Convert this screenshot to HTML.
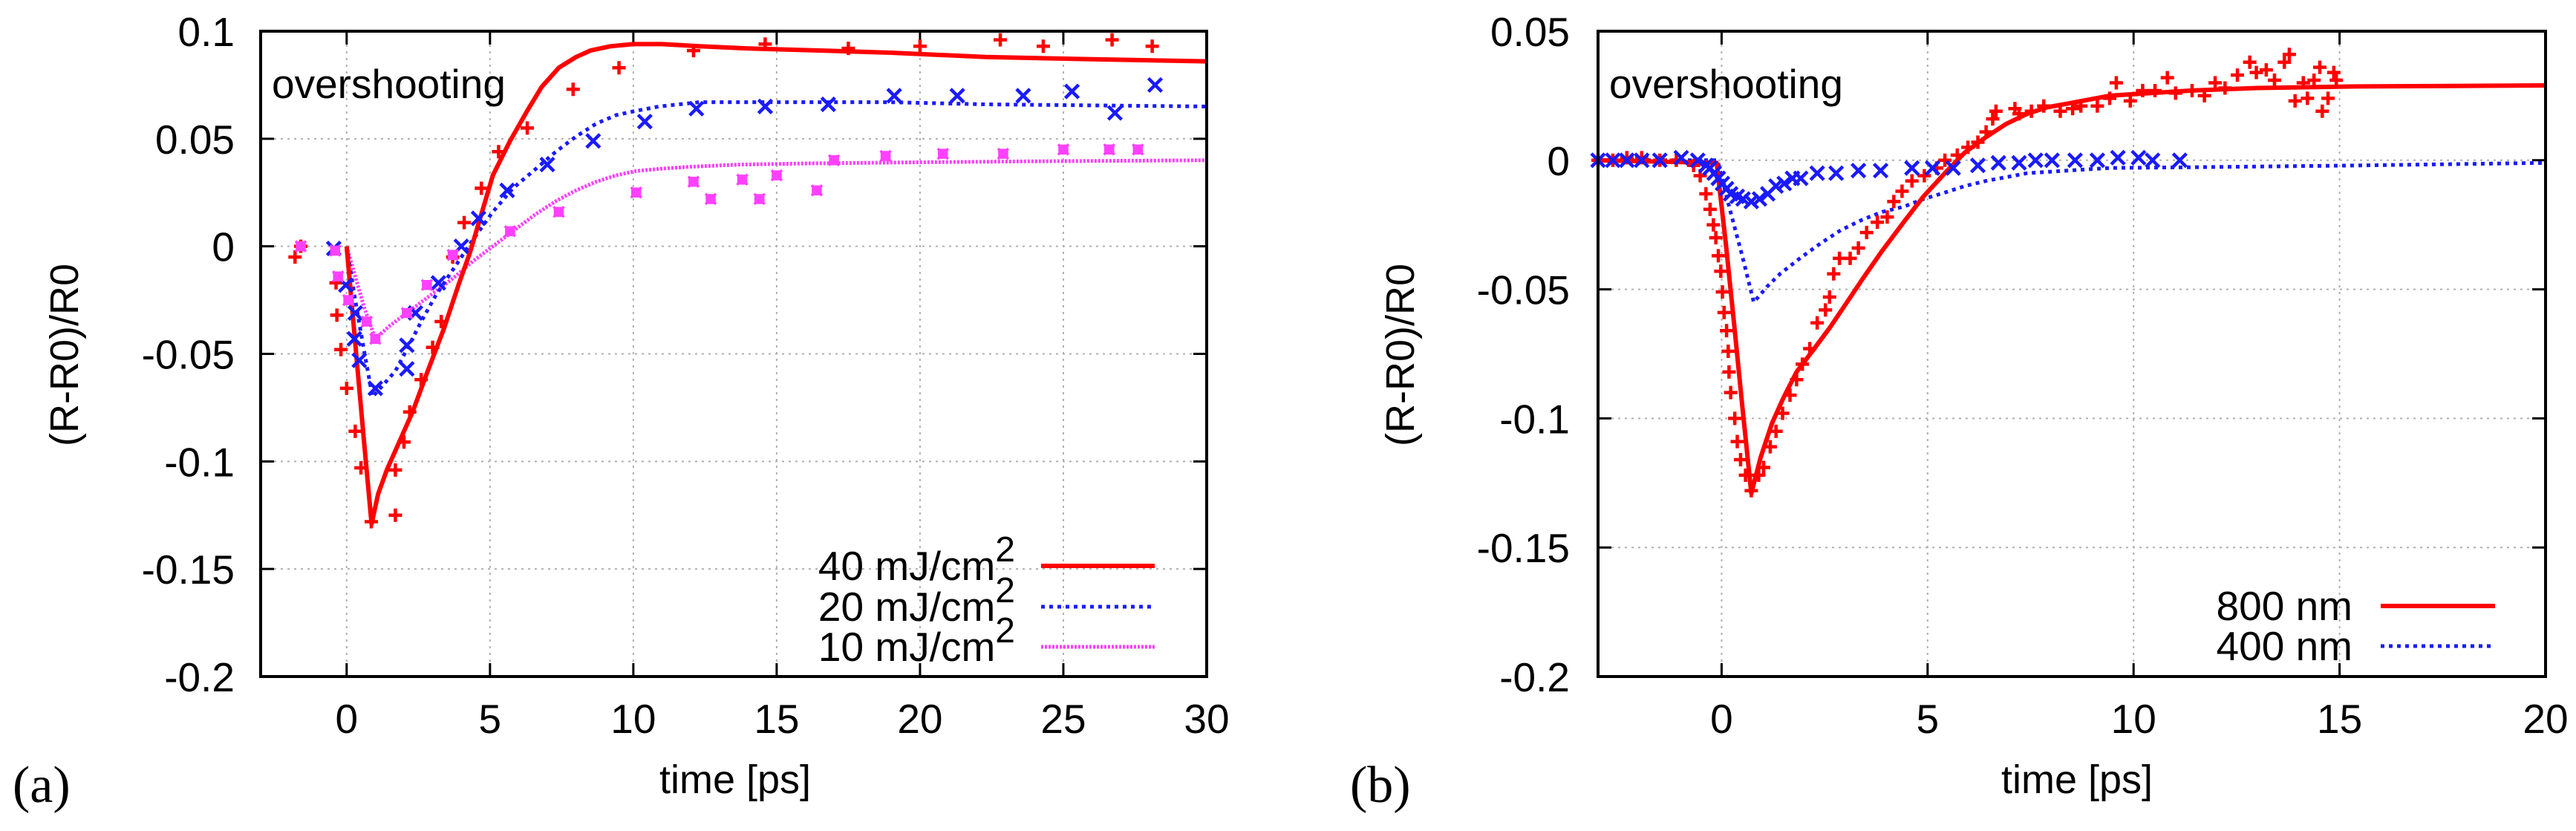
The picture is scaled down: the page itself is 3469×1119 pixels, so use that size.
<!DOCTYPE html>
<html><head><meta charset="utf-8"><style>
html,body{margin:0;padding:0;background:#fff;}
svg{display:block;}
text{font-family:"Liberation Sans",sans-serif;fill:#000;}
</style></head><body>
<svg id="fig" width="3469" height="1119" viewBox="0 0 3469 1119" xmlns="http://www.w3.org/2000/svg">
<g id="pa"></g>
<g id="pb"></g>
</svg>
<script>
// ---------- Panel (a) data ----------
const aXTicks = [0,5,10,15,20,25,30];
const aYTicks = [0.1,0.05,0,-0.05,-0.1,-0.15,-0.2];
const aYTickLabels = ["0.1","0.05","0","-0.05","-0.1","-0.15","-0.2"];
const a40T = [-1.8,-1.6,-0.37,-0.34,-0.2,0,0.3,0.5,0.86,1.7,1.7,2,2.2,2.6,3,3.3,3.7,4.1,4.7,5.3,6.3,7.9,9.5,12.1,14.6,17.5,20,22.8,24.3,26.7,28.1];
const a40V = [-0.005,0,-0.017,-0.032,-0.048,-0.066,-0.086,-0.103,-0.128,-0.104,-0.125,-0.091,-0.077,-0.062,-0.047,-0.035,-0.005,0.011,0.027,0.044,0.055,0.073,0.083,0.091,0.094,0.092,0.093,0.096,0.093,0.096,0.093];
const a40FitT = [0,0.3,0.6,0.87,1.1,1.4,1.8,2.3,2.8,3.4,3.9,4.3,4.7,5.1,5.7,6.3,6.8,7.4,8,8.5,9.2,10,11,12.3,14,16.6,19,22.3,26,30];
const a40FitV = [0,-0.045,-0.09,-0.129,-0.115,-0.104,-0.092,-0.077,-0.059,-0.038,-0.018,-0.003,0.015,0.033,0.049,0.063,0.074,0.083,0.088,0.091,0.093,0.094,0.094,0.093,0.092,0.091,0.09,0.088,0.087,0.086];
const a20T = [-0.45,-0.03,0.3,0.27,0.44,1.0,2.1,2.1,2.4,3.2,4.0,4.6,5.6,7.0,8.6,10.4,12.2,14.6,16.8,19.1,21.3,23.6,25.3,26.8,28.2];
const a20V = [-0.001,-0.018,-0.031,-0.043,-0.053,-0.066,-0.046,-0.057,-0.031,-0.017,0,0.013,0.026,0.038,0.049,0.058,0.064,0.065,0.066,0.07,0.07,0.07,0.072,0.062,0.075];
const a20FitT = [0,0.3,0.6,0.9,1.3,1.7,2.1,2.6,3.1,3.7,4.4,5.1,5.8,6.6,7.3,8,8.7,9.4,10.1,10.9,12.3,14,16.6,19,22.3,26,30];
const a20FitV = [0,-0.025,-0.048,-0.070,-0.064,-0.058,-0.048,-0.035,-0.023,-0.011,0.003,0.016,0.027,0.036,0.044,0.051,0.057,0.061,0.063,0.065,0.067,0.067,0.067,0.067,0.066,0.0655,0.065];
const a10T = [-1.6,-0.4,-0.3,0.06,0.7,1.0,2.1,2.8,3.7,5.7,7.4,10.1,12.1,12.7,13.8,14.4,15.0,16.4,17.0,18.8,20.8,22.9,25.0,26.6,27.6];
const a10V = [0,-0.002,-0.014,-0.025,-0.035,-0.043,-0.031,-0.018,-0.004,0.007,0.016,0.025,0.03,0.022,0.031,0.022,0.033,0.026,0.04,0.042,0.043,0.043,0.045,0.045,0.045];
const a10FitT = [0,0.3,0.6,1.0,1.5,2.2,3,3.7,4.4,5.1,5.8,6.6,7.3,8,8.7,9.4,10.1,10.9,12,13.7,16,19.5,24,30];
const a10FitV = [0,-0.014,-0.028,-0.043,-0.037,-0.030,-0.022,-0.015,-0.007,0,0.007,0.015,0.021,0.026,0.030,0.033,0.035,0.036,0.037,0.038,0.0385,0.039,0.0395,0.040];
const aLegend = ["40 mJ/cm","20 mJ/cm","10 mJ/cm"];

// ---------- Panel (b) data ----------
const bXTicks = [0,5,10,15,20];
const bYTicks = [0.05,0,-0.05,-0.1,-0.15,-0.2];
const bYTickLabels = ["0.05","0","-0.05","-0.1","-0.15","-0.2"];
const b800T = [-3,-2.64,-2.3,-1.94,-1.5,-1.1,-0.68,-0.52,-0.38,-0.28,-0.2,-0.14,-0.08,-0.02,0.02,0.06,0.12,0.16,0.18,0.22,0.32,0.38,0.46,0.58,0.72,0.9,1.02,1.18,1.32,1.48,1.66,1.82,1.96,2.14,2.32,2.52,2.62,2.72,2.86,3.12,3.32,3.52,3.78,4.02,4.18,4.38,4.62,4.92,5.22,5.42,5.72,5.98,6.22,6.42,6.58,6.66,7.12,7.22,7.52,7.82,8.22,8.52,8.72,9.12,9.42,9.58,9.92,10.22,10.52,10.82,11.02,11.42,11.72,11.98,12.22,12.52,12.82,12.98,13.22,13.42,13.66,13.78,13.92,14.12,14.22,14.38,14.52,14.58,14.72,14.86,14.92];
const b800V = [0,0,0.001,0.001,0,0,-0.002,-0.006,-0.013,-0.019,-0.025,-0.03,-0.037,-0.043,-0.051,-0.059,-0.066,-0.074,-0.082,-0.09,-0.1,-0.109,-0.116,-0.122,-0.128,-0.122,-0.119,-0.111,-0.105,-0.098,-0.091,-0.085,-0.079,-0.073,-0.063,-0.058,-0.053,-0.044,-0.038,-0.038,-0.034,-0.028,-0.024,-0.022,-0.016,-0.012,-0.008,-0.006,-0.003,0,0.002,0.005,0.007,0.011,0.016,0.019,0.02,0.018,0.019,0.021,0.019,0.02,0.021,0.021,0.024,0.03,0.023,0.027,0.027,0.032,0.026,0.027,0.025,0.03,0.028,0.033,0.038,0.034,0.035,0.031,0.038,0.041,0.023,0.03,0.024,0.031,0.036,0.019,0.024,0.034,0.031];
const b800FitT = [-3,-0.12,0.1,0.3,0.5,0.72,0.95,1.22,1.5,1.82,2.2,2.62,3,3.42,3.9,4.42,4.9,5.42,5.9,6.42,6.9,7.42,7.9,8.42,9.42,10.4,11.42,13,15.42,20];
const b800FitV = [0,-0.001,-0.032,-0.063,-0.095,-0.129,-0.115,-0.102,-0.092,-0.082,-0.074,-0.065,-0.056,-0.046,-0.035,-0.024,-0.014,-0.005,0.003,0.009,0.014,0.018,0.0205,0.022,0.025,0.026,0.027,0.028,0.0286,0.029];
const b400T = [-3,-2.64,-2.3,-1.94,-1.5,-0.98,-0.58,-0.38,-0.28,-0.18,-0.08,0.02,0.12,0.22,0.38,0.52,0.72,0.92,1.12,1.32,1.52,1.72,1.92,2.32,2.78,3.32,3.86,4.62,5.12,5.62,6.22,6.72,7.22,7.62,8.02,8.58,9.12,9.62,10.12,10.46,11.12];
const b400V = [0,0,0,0,0,0.001,0,-0.002,-0.003,-0.005,-0.007,-0.009,-0.011,-0.013,-0.014,-0.015,-0.016,-0.015,-0.013,-0.01,-0.009,-0.007,-0.007,-0.005,-0.005,-0.004,-0.004,-0.003,-0.003,-0.003,-0.002,-0.001,-0.001,0,0,0,0,0.001,0.001,0,0];
const b400FitT = [-3,-0.1,0.2,0.5,0.78,1.1,1.42,1.9,2.42,2.9,3.42,3.9,4.42,4.9,5.42,5.9,6.42,7.42,8.4,9.42,11.42,15.42,20];
const b400FitV = [0,0,-0.019,-0.037,-0.055,-0.049,-0.044,-0.038,-0.032,-0.027,-0.023,-0.020,-0.018,-0.015,-0.0125,-0.010,-0.008,-0.005,-0.004,-0.003,-0.0027,-0.002,-0.001];
const bLegend = ["800 nm","400 nm"];

const NS = "http://www.w3.org/2000/svg";
function mk(parent, tag, attrs, txt){
  const e = document.createElementNS(NS, tag);
  for (const k in attrs) e.setAttribute(k, attrs[k]);
  if (txt !== undefined) e.textContent = txt;
  parent.appendChild(e);
  return e;
}
function scale(d0,d1,r0,r1){ return v => r0 + (v-d0)/(d1-d0)*(r1-r0); }

function frame(g, L, R, T, B, xs, ys, xTicks, yTicks, yLabels, labelRight, xTitleX, yTitleX, panelLabel, panelLabelX){
  xTicks.forEach(t=>{
    const x = xs(t);
    if (x > L+2 && x < R-2) {
      const l = mk(g,'line',{x1:x,x2:x,y1:T,y2:B,stroke:'#b0b0b0','stroke-width':2,'stroke-dasharray':'3 6'});
      
      
    }
    mk(g,'line',{x1:x,x2:x,y1:B,y2:B-18,stroke:'#000','stroke-width':3});
    mk(g,'line',{x1:x,x2:x,y1:T,y2:T+18,stroke:'#000','stroke-width':3});
    const tl = mk(g,'text',{x:x,y:987,'font-size':55,'text-anchor':'middle'}, String(t));
    
    
  });
  yTicks.forEach((v,i)=>{
    const y = ys(v);
    if (y > T+2 && y < B-2) {
      const l = mk(g,'line',{x1:L,x2:R,y1:y,y2:y,stroke:'#b0b0b0','stroke-width':2,'stroke-dasharray':'3 6'});
      
      
    }
    mk(g,'line',{x1:L,x2:L+18,y1:y,y2:y,stroke:'#000','stroke-width':3});
    mk(g,'line',{x1:R,x2:R-18,y1:y,y2:y,stroke:'#000','stroke-width':3});
    const tl = mk(g,'text',{x:labelRight,y:y+20,'font-size':55,'text-anchor':'end'}, yLabels[i]);
    
    
  });
  const xt = mk(g,'text',{x:xTitleX,y:1068,'font-size':54,'text-anchor':'middle'},'time [ps]');
  
  
  const yt = mk(g,'text',{x:0,y:0,'font-size':54,'text-anchor':'middle',transform:`translate(${yTitleX+19},478) rotate(-90)`},'(R-R0)/R0');
  
  
  const pl = mk(g,'text',{x:panelLabelX,y:1080,'font-size':70,style:'font-family:"Liberation Serif",serif'},panelLabel);
  
  
  const ov = mk(g,'text',{x:L+15,y:132,'font-size':55},'overshooting');
  
  
}
function border(g,L,R,T,B){
  const r = mk(g,'rect',{x:L,y:T,width:R-L,height:B-T,fill:'none',stroke:'#000','stroke-width':4});
  
  
}
function curve(g, xs, ys, T, V, color, width, dash, name){
  const d = T.map((t,i)=>(i?'L':'M')+xs(t).toFixed(1)+' '+ys(V[i]).toFixed(1)).join(' ');
  const p = mk(g,'path',{d:d,fill:'none',stroke:color,'stroke-width':width,'stroke-linejoin':'round','stroke-dasharray':dash||'none'});
  
  
}
function points(g, xs, ys, T, V, color, kind, name){
  const grp = mk(g,'g',{});
  
  
  T.forEach((t,i)=>{
    const x = xs(t), y = ys(V[i]), s = 9;
    let d;
    if (kind==='plus') d = `M${x-s} ${y}H${x+s}M${x} ${y-s}V${y+s}`;
    else if (kind==='cross') d = `M${x-s} ${y-s}L${x+s} ${y+s}M${x-s} ${y+s}L${x+s} ${y-s}`;
    else { const q=5; d = `M${x-q} ${y-q}H${x+q}V${y+q}H${x-q}Z M${x-q-2} ${y-q-2}L${x+q+2} ${y+q+2}M${x-q-2} ${y+q+2}L${x+q+2} ${y-q-2}`; }
    const m = mk(grp,'path',{d:d,stroke:color,'stroke-width':kind==='box'?3.5:4.5,fill:kind==='box'?color:'none'});
    
    
  });
}
function legend(g, textRight, x1, x2, ys0, labels, colors, dashes, widths, sup){
  labels.forEach((lab,i)=>{
    const y = ys0[i];
    const t = mk(g,'text',{x:textRight,y:y+19,'font-size':55,'text-anchor':'end'});
    
    
    t.appendChild(document.createTextNode(lab));
    if (sup) { mk(t,'tspan',{dy:-25,'font-size':48},'2'); }
    const l = mk(g,'line',{x1:x1,x2:x2,y1:y,y2:y,stroke:colors[i],'stroke-width':widths[i],'stroke-dasharray':dashes[i]||'none'});
    
    
  });
}

(function(){
  const g = document.getElementById('pa');
  const L=351,R=1625,T=42,B=911;
  const xs = scale(-3,30,L,R), ys = scale(0.1,-0.2,T,B);
  frame(g,L,R,T,B,xs,ys,aXTicks,aYTicks,aYTickLabels,316,990,86,'(a)',17);
  curve(g,xs,ys,a10FitT,a10FitV,'#ff40ff',5,'3 2','fit-10mj');
  curve(g,xs,ys,a20FitT,a20FitV,'#1a1aff',5,'5 6','fit-20mj');
  curve(g,xs,ys,a40FitT,a40FitV,'#ff0000',6,null,'fit-40mj');
  points(g,xs,ys,a40T,a40V,'#ff0000','plus','data-40mj');
  points(g,xs,ys,a20T,a20V,'#1a1aff','cross','data-20mj');
  points(g,xs,ys,a10T,a10V,'#ff40ff','box','data-10mj');
  legend(g,1367,1402,1555,[762,817,871],aLegend,['#ff0000','#1a1aff','#ff40ff'],[null,'5 6','3 2'],[6,5,5],true);
  border(g,L,R,T,B);
})();
(function(){
  const g = document.getElementById('pb');
  const L=2152,R=3428,T=42,B=911;
  const xs = scale(-3,20,L,R), ys = scale(0.05,-0.2,T,B);
  frame(g,L,R,T,B,xs,ys,bXTicks,bYTicks,bYTickLabels,2114,2797,1885,'(b)',1818);
  curve(g,xs,ys,b400FitT,b400FitV,'#1a1aff',5,'5 6','fit-400nm');
  curve(g,xs,ys,b800FitT,b800FitV,'#ff0000',6,null,'fit-800nm');
  points(g,xs,ys,b800T,b800V,'#ff0000','plus','data-800nm');
  points(g,xs,ys,b400T,b400V,'#1a1aff','cross','data-400nm');
  legend(g,3168,3206,3360,[816,870],bLegend,['#ff0000','#1a1aff'],[null,'5 6'],[6,5],false);
  border(g,L,R,T,B);
})();
</script>
</body></html>
